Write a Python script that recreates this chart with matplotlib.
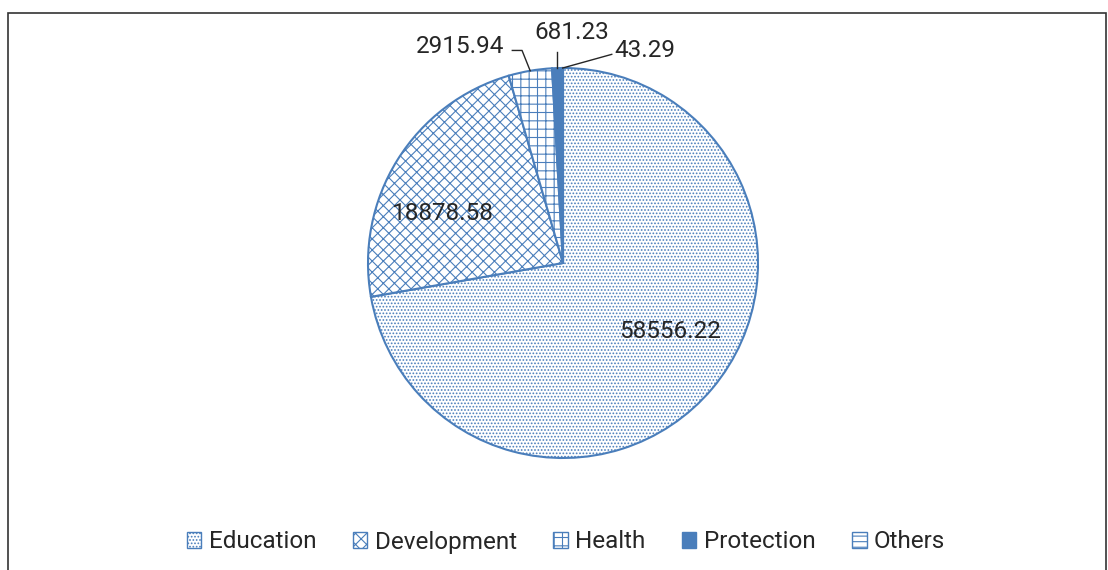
import matplotlib.pyplot as plt
import numpy as np
from matplotlib.patches import Rectangle

plt.rcParams['font.family'] = ['Roboto', 'DejaVu Sans']
plt.rcParams['hatch.linewidth'] = 0.8

categories = ["Education", "Development", "Health", "Protection", "Others"]
values = [58556.22, 18878.58, 2915.94, 681.23, 43.29]
labels = ["58556.22", "18878.58", "2915.94", "681.23", "43.29"]

blue = "#4a7ebb"
faces = ["white", "white", "white", blue, "white"]
hatches = [".....", "xxx", "++", "", "---"]

fig = plt.figure(figsize=(11.08, 5.70), dpi=100)

# outer chart frame
fig.patches.append(Rectangle((8 / 1108, -0.01), 1098 / 1108, 1 - 13 / 570 + 0.01,
                             transform=fig.transFigure, fill=False,
                             edgecolor="#333333", linewidth=1.2))

ax = fig.add_axes([(563 - 195) / 1108, (570 - 263 - 195) / 570, 390 / 1108, 390 / 570])
wedges, _ = ax.pie(values, startangle=90, counterclock=False, radius=1,
                   wedgeprops=dict(edgecolor=blue, linewidth=1.5))
for w, fc, h in zip(wedges, faces, hatches):
    w.set_facecolor(fc)
    w.set_hatch(h)
ax.set_xlim(-1, 1)
ax.set_ylim(-1, 1)
ax.set_aspect("equal")
ax.axis("off")

# wedge mid angles
total = sum(values)
angles = []
start = 90.0
for v in values:
    sweep = 360.0 * v / total
    angles.append(np.deg2rad(start - sweep / 2))
    start -= sweep

# label positions (axes data units)
label_pos = [(0.55, -0.35), (-0.615, 0.256), (-0.53, 1.11), (0.047, 1.18), (0.42, 1.09)]
for i, (tx, ty) in enumerate(label_pos):
    ax.text(tx, ty, labels[i], ha="center", va="center", fontsize=17.5,
            color="#262626", clip_on=False)

# leader lines
lc = "#262626"
ex, ey = np.cos(angles[2]), np.sin(angles[2])
ax.plot([-0.26, -0.21, ex], [1.09, 1.09, ey], color=lc, lw=1, clip_on=False)
ex, ey = np.cos(angles[3]), np.sin(angles[3])
ax.plot([ex, ex], [ey, 1.08], color=lc, lw=1, clip_on=False)
ex, ey = np.cos(angles[4]), np.sin(angles[4])
ax.plot([0.25, ex], [1.07, ey], color=lc, lw=1, clip_on=False)

handles = [Rectangle((0, 0), 1, 1, facecolor=fc, edgecolor=blue, hatch=h, linewidth=1)
           for fc, h in zip(faces, hatches)]
fig.legend(handles, categories, loc="center", bbox_to_anchor=(566 / 1108, 1 - 542 / 570),
           ncol=5, frameon=False, fontsize=17.5, handlelength=0.6, handleheight=0.6,
           handletextpad=0.3, columnspacing=1.5, labelcolor="#262626")

fig.savefig("out.png", dpi=100)
